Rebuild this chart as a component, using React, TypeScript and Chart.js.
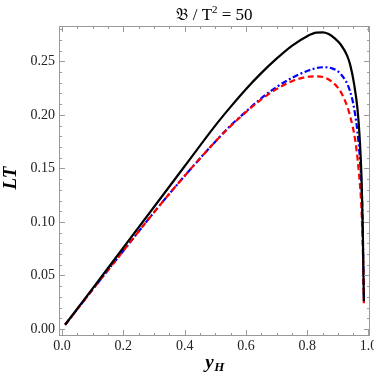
import React, { useEffect, useRef } from "react";
import { Chart, registerables } from "chart.js";

Chart.register(...registerables);

const titleMain = "𝔅 / T";
const titleSup = "2";
const titleTail = " = 50";
const yTitle = "LT";
const xTitleBase = "y";
const xTitleSub = "H";

const xTicks = [0, 0.2, 0.4, 0.6, 0.8, 1.0];
const yTicks = [0, 0.05, 0.1, 0.15, 0.2, 0.25];

const blackX = [0.01, 0.1, 0.2, 0.3, 0.4, 0.5, 0.55, 0.6, 0.65, 0.7, 0.75, 0.8, 0.83, 0.85, 0.87, 0.89, 0.91, 0.93, 0.941, 0.953, 0.964, 0.971, 0.977, 0.981, 0.985];
const blackY = [0.004, 0.038, 0.076, 0.114, 0.152, 0.19, 0.2075, 0.224, 0.239, 0.2525, 0.2645, 0.2735, 0.2768, 0.277, 0.2755, 0.2715, 0.2655, 0.2555, 0.246, 0.229, 0.206, 0.18, 0.144, 0.1, 0.026];

const blueX = [0.01, 0.1, 0.2, 0.3, 0.4, 0.5, 0.55, 0.6, 0.65, 0.7, 0.75, 0.8, 0.85, 0.88, 0.91, 0.94, 0.955, 0.967, 0.975, 0.98, 0.985];
const blueY = [0.004, 0.037, 0.073, 0.109, 0.143, 0.175, 0.19, 0.203, 0.2155, 0.226, 0.2345, 0.241, 0.2445, 0.2435, 0.238, 0.222, 0.203, 0.176, 0.146, 0.113, 0.027];

const redX = [0.01, 0.1, 0.2, 0.3, 0.4, 0.5, 0.55, 0.6, 0.65, 0.7, 0.75, 0.8, 0.83, 0.86, 0.9, 0.92, 0.94, 0.958, 0.97, 0.977, 0.982, 0.985];
const redY = [0.004, 0.037, 0.073, 0.109, 0.143, 0.175, 0.1895, 0.2025, 0.2145, 0.224, 0.2315, 0.2355, 0.236, 0.2345, 0.2255, 0.2155, 0.199, 0.174, 0.142, 0.113, 0.07, 0.024];

const X_MIN = -0.01;
const X_MAX = 1.005;
const Y_MIN = -0.0065;
const Y_MAX = 0.283;

const pts = (xs: number[], ys: number[]) => xs.map((x, i) => ({ x, y: ys[i] }));

const framePlugin = {
  id: "framePlugin",
  afterDraw(chart: any) {
    const { ctx, chartArea, scales } = chart;
    const { left, right, top, bottom } = chartArea;
    const xs = scales.x;
    const ys = scales.y;
    ctx.save();
    ctx.strokeStyle = "#9a9a9a";
    ctx.lineWidth = 1;
    ctx.strokeRect(left + 0.5, top + 0.5, right - left - 1, bottom - top - 1);
    ctx.beginPath();
    for (let k = 0; k <= 20; k++) {
      const v = k * 0.05;
      if (v < X_MIN || v > X_MAX) continue;
      const px = Math.round(xs.getPixelForValue(v)) + 0.5;
      const len = k % 4 === 0 ? 6 : 3;
      ctx.moveTo(px, bottom);
      ctx.lineTo(px, bottom - len);
      ctx.moveTo(px, top);
      ctx.lineTo(px, top + len);
    }
    for (let k = 0; k <= 28; k++) {
      const v = k * 0.01;
      if (v < Y_MIN || v > Y_MAX) continue;
      const py = Math.round(ys.getPixelForValue(v)) + 0.5;
      const len = k % 5 === 0 ? 6 : 3;
      ctx.moveTo(left, py);
      ctx.lineTo(left + len, py);
      ctx.moveTo(right, py);
      ctx.lineTo(right - len, py);
    }
    ctx.stroke();

    ctx.fillStyle = "#000";
    ctx.textBaseline = "alphabetic";
    const mainFont = "17px 'Liberation Serif', 'DejaVu Serif', serif";
    const supFont = "11px 'Liberation Serif', 'DejaVu Serif', serif";
    ctx.font = mainFont;
    const w1 = ctx.measureText(titleMain).width;
    const w3 = ctx.measureText(titleTail).width;
    ctx.font = supFont;
    const w2 = ctx.measureText(titleSup).width;
    const cx = (left + right) / 2;
    let tx = cx - (w1 + w2 + w3) / 2;
    const ty = 20;
    ctx.font = mainFont;
    ctx.textAlign = "left";
    ctx.fillText(titleMain, tx, ty);
    tx += w1;
    ctx.font = supFont;
    ctx.fillText(titleSup, tx, ty - 7);
    tx += w2;
    ctx.font = mainFont;
    ctx.fillText(titleTail, tx, ty);

    ctx.save();
    ctx.translate(16, (top + bottom) / 2 - 3);
    ctx.rotate(-Math.PI / 2);
    ctx.font = "bold italic 19px 'Liberation Serif', 'DejaVu Serif', serif";
    ctx.textAlign = "center";
    ctx.fillText(yTitle, 0, 0);
    ctx.restore();

    const bf = "bold italic 19px 'Liberation Serif', 'DejaVu Serif', serif";
    const sf = "bold italic 13px 'Liberation Serif', 'DejaVu Serif', serif";
    ctx.font = bf;
    const wb = ctx.measureText(xTitleBase).width;
    ctx.font = sf;
    const ws = ctx.measureText(xTitleSub).width;
    let xx = cx - (wb + ws) / 2;
    ctx.font = bf;
    ctx.textAlign = "left";
    ctx.fillText(xTitleBase, xx, 368);
    xx += wb + 0.5;
    ctx.font = sf;
    ctx.fillText(xTitleSub, xx, 371);
    ctx.restore();
  },
};

export default function App() {
  const ref = useRef<HTMLCanvasElement | null>(null);
  useEffect(() => {
    if (!ref.current) return;
    const tickFont = { family: "'Liberation Serif', 'DejaVu Serif', serif", size: 14 };
    const chart = new Chart(ref.current, {
      type: "scatter",
      data: {
        datasets: [
          {
            label: "black",
            data: pts(blackX, blackY),
            showLine: true,
            borderColor: "#000000",
            borderWidth: 2.2,
            pointRadius: 0,
            cubicInterpolationMode: "monotone",
          },
          {
            label: "red",
            data: pts(redX, redY),
            showLine: true,
            borderColor: "#ff0000",
            borderWidth: 2.2,
            borderDash: [6, 3.5],
            pointRadius: 0,
            cubicInterpolationMode: "monotone",
          },
          {
            label: "blue",
            data: pts(blueX, blueY),
            showLine: true,
            borderColor: "#0000ff",
            borderWidth: 2.2,
            borderDash: [6, 2.5, 2, 2.5],
            pointRadius: 0,
            cubicInterpolationMode: "monotone",
          },
        ],
      } as any,
      options: {
        responsive: false,
        animation: false,
        devicePixelRatio: 1,
        layout: { padding: { top: 26, right: 4, left: 0, bottom: 0 } },
        plugins: { legend: { display: false }, tooltip: { enabled: false }, title: { display: false } },
        scales: {
          x: {
            type: "linear",
            min: X_MIN,
            max: X_MAX,
            grid: { display: false, drawTicks: false },
            border: { display: false },
            afterBuildTicks: (s: any) => {
              s.ticks = xTicks.map((v) => ({ value: v }));
            },
            afterFit: (s: any) => {
              s.height = 47;
              s.paddingLeft = 0;
              s.paddingRight = 0;
            },
            ticks: {
              font: tickFont,
              color: "#222",
              padding: 2,
              maxRotation: 0,
              callback: (v: any) => Number(v).toFixed(1),
            },
          },
          y: {
            type: "linear",
            min: Y_MIN,
            max: Y_MAX,
            grid: { display: false, drawTicks: false },
            border: { display: false },
            afterBuildTicks: (s: any) => {
              s.ticks = yTicks.map((v) => ({ value: v }));
            },
            afterFit: (s: any) => {
              s.width = 59;
              s.paddingTop = 0;
              s.paddingBottom = 0;
            },
            ticks: {
              font: tickFont,
              color: "#222",
              padding: 4,
              callback: (v: any) => Number(v).toFixed(2),
            },
          },
        },
      } as any,
      plugins: [framePlugin],
    });
    return () => chart.destroy();
  }, []);
  return (
    <div style={{ position: "absolute", left: 0, top: 0, width: 374, height: 383, background: "#fff" }}>
      <canvas ref={ref} width={374} height={383} style={{ width: 374, height: 383, display: "block" }} />
    </div>
  );
}
